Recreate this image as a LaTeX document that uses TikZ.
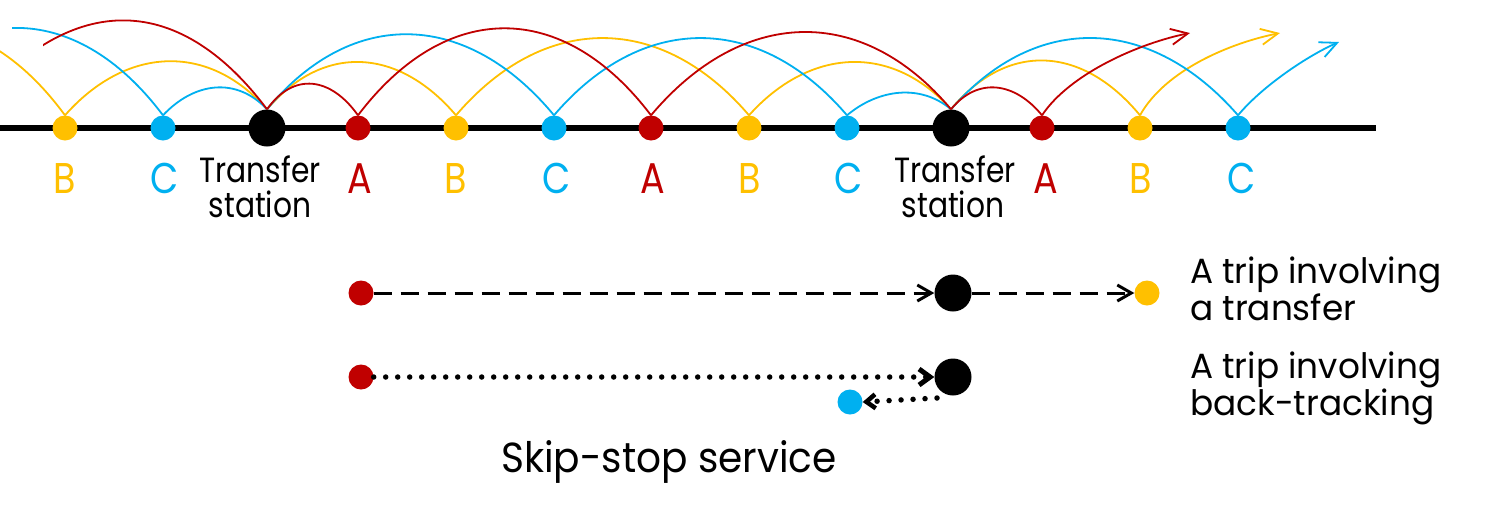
\documentclass[tikz,border=0pt]{standalone}
\usepackage{fontspec}
\setmainfont{Poppins}[FakeStretch=0.85]
\newfontfamily\legfont{Poppins}[FakeStretch=0.98]
\newfontfamily\ttlfont{Poppins}[FakeStretch=0.93]
\usetikzlibrary{arrows.meta}
\definecolor{yl}{HTML}{FFC000}
\definecolor{bl}{HTML}{00B0F0}
\definecolor{rd}{HTML}{C00000}
\tikzset{
  barbtip/.tip={Straight Barb[length=17pt,width=16pt]},
  legtip/.tip={Straight Barb[length=14pt,width=16pt]},
  dottip/.tip={Straight Barb[length=11pt,width=16pt]},
}
\begin{document}
\begin{tikzpicture}[x=1pt,y=-1pt,
  stn/.style={circle,inner sep=0pt,minimum size=25pt,fill=#1},
  trn/.style={circle,inner sep=0pt,minimum size=37pt,fill=black},
  arcline/.style={#1,line width=1.8pt},
  lbl/.style={anchor=base,text=#1,inner sep=0pt,font=\fontsize{43}{43}\selectfont},
  txt/.style={inner sep=0pt,font=\fontsize{35}{37}\selectfont},
  legtxt/.style={inner sep=0pt,anchor=base west,font=\legfont\fontsize{35}{37}\selectfont},
  dashline/.style={line width=3pt,dash pattern=on 18pt off 9pt},
  dotline/.style={line width=5.5pt,line cap=round,dash pattern=on 0pt off 12pt},
]
\clip (0,0) rectangle (1486,515);
\fill[white] (0,0) rectangle (1486,515);

% off-page and free ends
\coordinate (L0) at (0,128);
\coordinate (L1) at (1376,128);
\coordinate (Bm) at (-228,116);
\coordinate (Cm) at (-131,116);
\coordinate (Am) at (-33,116);
\coordinate (yt) at (1280,33);
\coordinate (bt) at (1339,42);
\coordinate (rt) at (1190,33);

% station positions (drawn later on top)
\coordinate (B1) at (65,128);
\coordinate (C1) at (163,128);
\coordinate (T1) at (267,128);
\coordinate (A2) at (358,128);
\coordinate (B2) at (456,128);
\coordinate (C2) at (554,128);
\coordinate (A3) at (651,128);
\coordinate (B3) at (749,128);
\coordinate (C3) at (847,128);
\coordinate (T2) at (951,128);
\coordinate (A4) at (1042,128);
\coordinate (B4) at (1140,128);
\coordinate (C4) at (1238,128);

% main line and stations
\draw[line width=6pt] (L0) -- (L1);
\node[stn=yl] (sB1) at (B1) {};
\node[stn=bl] (sC1) at (C1) {};
\node[trn]    (sT1) at (T1) {};
\node[stn=rd] (sA2) at (A2) {};
\node[stn=yl] (sB2) at (B2) {};
\node[stn=bl] (sC2) at (C2) {};
\node[stn=rd] (sA3) at (A3) {};
\node[stn=yl] (sB3) at (B3) {};
\node[stn=bl] (sC3) at (C3) {};
\node[trn]    (sT2) at (T2) {};
\node[stn=rd] (sA4) at (A4) {};
\node[stn=yl] (sB4) at (B4) {};
\node[stn=bl] (sC4) at (C4) {};

% yellow service
\draw[arcline=yl] (Bm) .. controls +(88,-120) and +(-88,-120) .. (sB1.north);
\draw[arcline=yl] (sB1.north) .. controls +(60,-68) and +(-60,-68) .. (sT1.north);
\draw[arcline=yl] (sT1.north) .. controls +(57,-67) and +(-57,-67) .. (sB2.north);
\draw[arcline=yl] (sB2.north) .. controls +(88,-103) and +(-88,-103) .. (sB3.north);
\draw[arcline=yl] (sB3.north) .. controls +(60,-67) and +(-60,-67) .. (sT2.north);
\draw[arcline=yl] (sT2.north) .. controls +(57,-69) and +(-57,-69) .. (sB4.north);
\draw[arcline=yl,-barbtip] (sB4.north) .. controls +(25,-45) and +(-50,10) .. (yt);

% blue service
\begin{scope}
\clip (12,0) rectangle (300,140);
\draw[arcline=bl] (Cm) .. controls +(88,-117) and +(-88,-117) .. (sC1.north);
\end{scope}
\draw[arcline=bl] (sC1.north) .. controls +(31,-33) and +(-31,-33) .. (sT1.north);
\draw[arcline=bl] (sT1.north) .. controls +(86,-104) and +(-86,-104) .. (sC2.north);
\draw[arcline=bl] (sC2.north) .. controls +(88,-103) and +(-88,-103) .. (sC3.north);
\draw[arcline=bl] (sC3.north) .. controls +(31,-26) and +(-31,-26) .. (sT2.north);
\draw[arcline=bl] (sT2.north) .. controls +(86,-99) and +(-86,-99) .. (sC4.north);
\draw[arcline=bl,-barbtip] (sC4.north) .. controls +(25,-30) and +(-30,13) .. (bt);

% red service
\begin{scope}
\clip (43,0) rectangle (300,140);
\draw[arcline=rd] (Am) .. controls +(100,-126) and +(-90,-120) .. (sT1.north);
\end{scope}
\draw[arcline=rd] (sT1.north) .. controls +(27,-38) and +(-27,-38) .. (sA2.north);
\draw[arcline=rd] (sA2.north) .. controls +(88,-116) and +(-88,-116) .. (sA3.north);
\draw[arcline=rd] (sA3.north) .. controls +(90,-107) and +(-90,-107) .. (sT2.north);
\draw[arcline=rd] (sT2.north) .. controls +(27,-33) and +(-27,-33) .. (sA4.north);
\draw[arcline=rd,-barbtip] (sA4.north) .. controls +(28,-42) and +(-50,10) .. (rt);

% station labels
\node[lbl=yl] (lB1) at (65,193) {B};
\node[lbl=bl] (lC1) at (165,193) {C};
\node[lbl=rd] (lA2) at (360,193) {A};
\node[lbl=yl] (lB2) at (456,193) {B};
\node[lbl=bl] (lC2) at (557,193) {C};
\node[lbl=rd] (lA3) at (653,193) {A};
\node[lbl=yl] (lB3) at (750,193) {B};
\node[lbl=bl] (lC3) at (849,193) {C};
\node[lbl=rd] (lA4) at (1046,193) {A};
\node[lbl=yl] (lB4) at (1141,193) {B};
\node[lbl=bl] (lC4) at (1242,193) {C};
\node[txt,anchor=base] (tr1a) at (260,182) {Transfer};
\node[txt,anchor=base] (tr1b) at (260,217) {station};
\node[txt,anchor=base] (tr2a) at (955,182) {Transfer};
\node[txt,anchor=base] (tr2b) at (953,217) {station};

% legend
\node[stn=rd] (LR1) at (361,293) {};
\node[trn]    (LT1) at (953,293) {};
\node[stn=yl] (LY)  at (1147,293) {};
\node[stn=rd] (LR2) at (361,377) {};
\node[trn]    (LT2) at (953,377) {};
\node[stn=bl] (LB)  at (850,402) {};
\coordinate (bk) at (937,398);

\draw[dashline,-legtip] (LR1.east) -- (LT1.west);
\draw[dashline,-legtip] (LT1.east) -- (LY.west);
\draw[dotline,-{dottip[line width=5pt]}] (LR2.east) -- (LT2.west);
\draw[dotline,-{dottip[line width=4.5pt,length=9pt,width=14pt]}] (bk) -- (LB.east);

\node[legtxt] (g1) at (1190,283) {A trip involving};
\node[legtxt] (g2) at (1190,320) {a transfer};
\node[legtxt] (g3) at (1190,378) {A trip involving};
\node[legtxt] (g4) at (1190,415) {back-tracking};

\node[anchor=base,inner sep=0pt,font=\ttlfont\fontsize{42}{42}\selectfont] (title) at (669,472) {Skip-stop service};
\end{tikzpicture}
\end{document}
